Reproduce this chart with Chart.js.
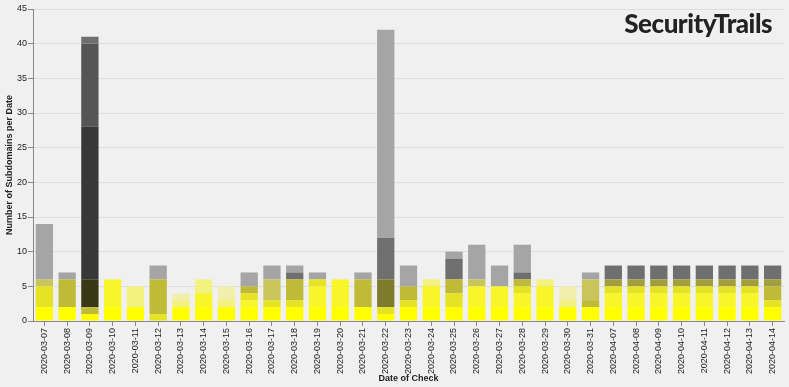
<!DOCTYPE html>
<html lang="en">
<head>
<meta charset="UTF-8">
<title>Subdomains per Date</title>
<script src="https://cdn.jsdelivr.net/npm/chart.js"></script>
<style>
    body { margin: 0; background: #f0f0f0; }
    #wrap { position: relative; width: 789px; height: 387px; }
    #brand { position: absolute; right: 17px; top: 7px; font: 900 26px Lato, sans-serif; color: #222; letter-spacing: -0.5px; }
</style>
</head>
<body>
<div id="wrap">
    <canvas id="myChart" width="789" height="387"></canvas>
    <div id="brand">SecurityTrails</div>
</div>

<script>
// Dates of check
var dates = ['2020-03-07', '2020-03-08', '2020-03-09', '2020-03-10', '2020-03-11', '2020-03-12',
    '2020-03-13', '2020-03-14', '2020-03-15', '2020-03-16', '2020-03-17', '2020-03-18',
    '2020-03-19', '2020-03-20', '2020-03-21', '2020-03-22', '2020-03-23', '2020-03-24',
    '2020-03-25', '2020-03-26', '2020-03-27', '2020-03-28', '2020-03-29', '2020-03-30',
    '2020-03-31', '2020-04-07', '2020-04-08', '2020-04-09', '2020-04-10', '2020-04-11',
    '2020-04-12', '2020-04-13', '2020-04-14'];

// Subdomain counts per shade, stacked bottom to top
var yellow    = [2,2,1,2,2,0,2,2,2,2,2,2,2,2,2,1,2,2,2,2,2,2,2,2,2,2,2,2,2,2,2,2,2];
var yellow2   = [0,0,0,4,0,0,0,2,0,1,0,0,3,4,0,0,0,3,0,3,3,2,3,0,0,2,2,2,2,2,2,2,0];
var pale      = [0,0,0,0,3,0,1,2,1,0,0,0,0,0,0,0,0,1,0,0,0,0,1,1,0,0,0,0,0,0,0,0,0];
var paler     = [0,0,0,0,0,0,1,0,2,0,0,0,0,0,0,0,0,0,0,0,0,0,0,2,0,0,0,0,0,0,0,0,0];
var mustard   = [3,0,0,0,0,1,0,0,0,1,1,1,1,0,0,1,1,0,2,0,0,1,0,0,0,1,1,1,1,1,1,1,1];
var olive     = [0,4,1,0,0,5,0,0,0,1,0,3,0,0,4,0,2,0,2,0,0,1,0,0,1,0,0,0,0,0,0,0,2];
var khaki     = [1,0,0,0,0,0,0,0,0,0,3,0,0,0,0,0,0,0,0,1,0,0,0,0,3,0,0,0,0,0,0,0,0];
var darkOlive = [0,0,0,0,0,0,0,0,0,0,0,0,0,0,0,0,0,0,0,0,0,0,0,0,0,1,1,1,1,1,1,1,1];
var deepOlive = [0,0,0,0,0,0,0,0,0,0,0,0,0,0,0,4,0,0,0,0,0,0,0,0,0,0,0,0,0,0,0,0,0];
var nightOlive= [0,0,4,0,0,0,0,0,0,0,0,0,0,0,0,0,0,0,0,0,0,0,0,0,0,0,0,0,0,0,0,0,0];
var charcoal  = [0,0,22,0,0,0,0,0,0,0,0,0,0,0,0,0,0,0,0,0,0,0,0,0,0,0,0,0,0,0,0,0,0];
var darkGray  = [0,0,12,0,0,0,0,0,0,0,0,0,0,0,0,0,0,0,0,0,0,0,0,0,0,0,0,0,0,0,0,0,0];
var dimGray   = [0,0,1,0,0,0,0,0,0,0,0,1,0,0,0,6,0,0,3,0,0,1,0,0,0,2,2,2,2,2,2,2,2];
var gray      = [8,1,0,0,0,2,0,0,0,2,2,1,1,0,1,30,3,0,1,5,3,4,0,0,1,0,0,0,0,0,0,0,0];

var yTicks = [0, 5, 10, 15, 20, 25, 30, 35, 40, 45];

var layers = [
    { label: 'yellow', data: yellow, color: '#ffff00' },
    { label: 'yellow2', data: yellow2, color: '#f8f528' },
    { label: 'pale', data: pale, color: '#f4f27e' },
    { label: 'paler', data: paler, color: '#f2efac' },
    { label: 'mustard', data: mustard, color: '#e6e224' },
    { label: 'olive', data: olive, color: '#bfba38' },
    { label: 'khaki', data: khaki, color: '#c9c55a' },
    { label: 'darkOlive', data: darkOlive, color: '#a29e3e' },
    { label: 'deepOlive', data: deepOlive, color: '#7e7b2c' },
    { label: 'nightOlive', data: nightOlive, color: '#3a3814' },
    { label: 'charcoal', data: charcoal, color: '#383838' },
    { label: 'darkGray', data: darkGray, color: '#555555' },
    { label: 'dimGray', data: dimGray, color: '#6f6f6f' },
    { label: 'gray', data: gray, color: '#a5a5a5' }
];

var font = "'Liberation Sans', Arial, sans-serif";
var ctx = document.getElementById('myChart').getContext('2d');

var myChart = new Chart(ctx, {
    type: 'bar',
    data: {
        labels: dates,
        datasets: layers.map(function (l) {
            return {
                label: l.label,
                data: l.data,
                backgroundColor: l.color,
                borderWidth: 0,
                barPercentage: 0.76,
                categoryPercentage: 1.0
            };
        })
    },
    options: {
        responsive: false,
        animation: false,
        layout: { padding: { top: 9, right: 5, left: 0, bottom: 0 } },
        plugins: {
            legend: { display: false },
            tooltip: { enabled: false }
        },
        scales: {
            x: {
                stacked: true,
                afterFit: function (s) { s.height = 66; },
                grid: { drawOnChartArea: false, offset: false, tickColor: '#888', tickLength: 5 },
                border: { color: '#888' },
                ticks: {
                    minRotation: 90, maxRotation: 90, autoSkip: false, padding: 2,
                    color: '#222', font: { family: font, size: 9 }
                },
                title: {
                    display: true, text: 'Date of Check', color: '#222',
                    font: { family: font, size: 9, weight: 'bold' },
                    padding: { top: 0, bottom: 3 }
                }
            },
            y: {
                stacked: true,
                min: 0, max: 45,
                afterFit: function (s) { s.width = 33; },
                afterBuildTicks: function (s) { s.ticks = yTicks.map(function (v) { return { value: v }; }); },
                grid: { color: '#dddddd', tickColor: '#888', tickLength: 5 },
                border: { color: '#888' },
                ticks: { padding: 1, color: '#222', font: { family: font, size: 9 } },
                title: {
                    display: true, text: 'Number of Subdomains per Date', color: '#222',
                    font: { family: font, size: 9, weight: 'bold' },
                    padding: { top: 4, bottom: 0 }
                }
            }
        }
    }
});
</script>
</body>
</html>
